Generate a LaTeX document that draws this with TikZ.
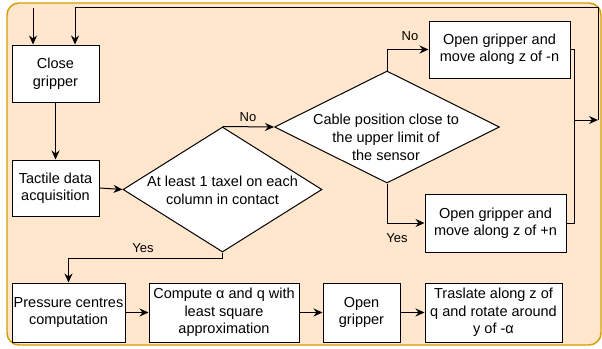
\documentclass[tikz,border=0pt]{standalone}
\usepackage{fontspec}
\setmainfont{Liberation Sans}
\usetikzlibrary{shapes.geometric,arrows.meta}
\definecolor{bgfill}{HTML}{FFE6CC}
\definecolor{bgline}{HTML}{D79B00}

\begin{document}
\begin{tikzpicture}[x=1pt,y=-1pt,
    box/.style={draw, fill=white, line width=1pt, align=center, inner sep=1pt,
        font=\fontsize{14.5}{17.5}\selectfont},
    decision/.style={draw, fill=white, diamond, line width=1pt, inner sep=0pt},
    dtext/.style={align=center, inner sep=0pt, font=\fontsize{14.5}{18}\selectfont},
    lbl/.style={inner sep=0pt, font=\fontsize{13}{15}\selectfont},
    arrow/.style={line width=1pt, -{Stealth[length=9pt,width=8pt]}},
    line/.style={line width=1pt}]
    \useasboundingbox (0,0) rectangle (602,348);
    % background
    \draw[rounded corners=12pt, fill=bgfill, draw=bgline, line width=1.4pt] (7,3) rectangle (601,345);

    % upper part
    \node[box, minimum width=87pt, minimum height=57pt] (close) at (55.5,73.5) {Close\\gripper};
    \node[box, minimum width=87pt, minimum height=56pt] (tactile) at (55.5,188) {Tactile data\\acquisition};
    \node[decision, minimum width=199pt, minimum height=125pt] (contact) at (222.5,189.5) {};
    \node[dtext] (contacttxt) at (222.5,190) {At least 1 taxel on each\\column in contact};
    \node[decision, minimum width=225pt, minimum height=112pt] (cable) at (387,127) {};
    \node[dtext] (cabletxt) at (386,137) {Cable position close to\\the upper limit of\\the sensor};
    \node[box, minimum width=141pt, minimum height=57pt] (openminus) at (499.5,49.5) {Open gripper and\\move along z of -n};
    \node[box, minimum width=141pt, minimum height=58pt] (openplus) at (495.5,223) {Open gripper and\\move along z of +n};

    % lower part
    \node[box, minimum width=113pt, minimum height=59pt] (pressure) at (68.5,312.5) {Pressure centres\\computation};
    \node[box, minimum width=150pt, minimum height=59pt] (compute) at (224,312.5) {Compute α and q with\\least square\\approximation};
    \node[box, minimum width=77pt, minimum height=59pt] (open) at (361.5,312.5) {Open\\gripper};
    \node[box, minimum width=137pt, minimum height=59pt] (traslate) at (493.5,312.5) {Traslate along z of\\q and rotate around\\y of -α};

    % loop points
    \coordinate (start) at (33,8);
    \coordinate (merge) at (574,120);
    \coordinate (back) at (598,120);
    \coordinate (corner) at (598,7);

    \draw[arrow] (start) -- (start |- close.north);
    \draw[arrow] (close) -- (tactile);
    \draw[arrow] (tactile.east) -- (contact.west);
    \draw[arrow] (contact.north) -- (cable.west);
    \node[lbl] (no1) at (248,117) {No};
    \draw[arrow] (cable.north) |- (openminus.west);
    \node[lbl] (no2) at (410,36) {No};
    \draw[arrow] (cable.south) |- (openplus.west);
    \node[lbl] (yes2) at (397,238) {Yes};
    \draw[arrow] (contact.south) -- ++(0,6) -| (pressure.north);
    \node[lbl] (yes1) at (143,248) {Yes};
    \draw[line] (openminus.east) -| (merge);
    \draw[line] (openplus.east) -| (merge);
    \draw[arrow] (merge) -- (back);
    \draw[arrow] (back) -- (corner) -| ([xshift=19.5pt]close.north);
    \draw[arrow] (pressure) -- (compute);
    \draw[arrow] (compute) -- (open);
    \draw[arrow] (open) -- (traslate);
\end{tikzpicture}
\end{document}
